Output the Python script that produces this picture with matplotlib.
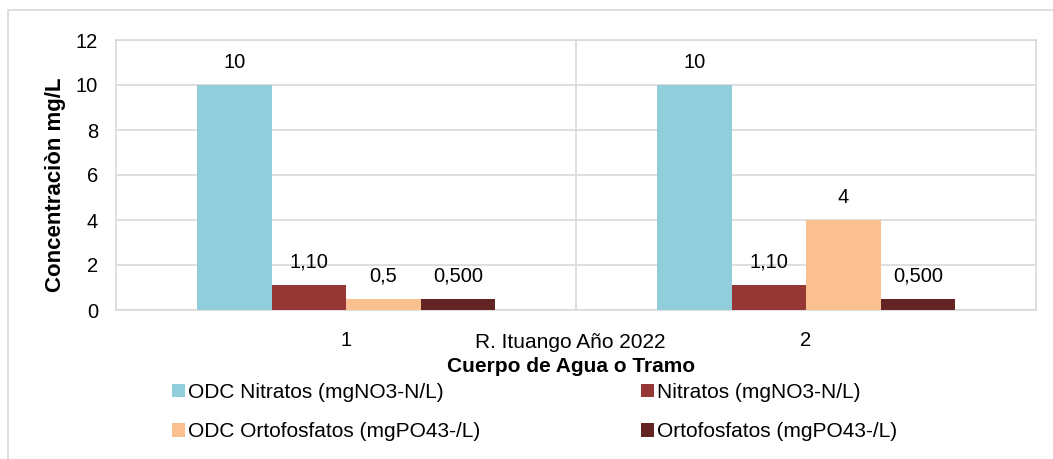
import matplotlib
matplotlib.use("Agg")
import matplotlib.pyplot as plt
from matplotlib.patches import Rectangle
import numpy as np

categories = ["1", "2"]
series_names = ["ODC Nitratos (mgNO3-N/L)", "Nitratos (mgNO3-N/L)",
                "ODC Ortofosfatos (mgPO43-/L)", "Ortofosfatos (mgPO43-/L)"]
odc_nitratos = [10, 10]
nitratos = [1.10, 1.10]
odc_ortofosfatos = [0.5, 4]
ortofosfatos = [0.500, 0.500]
labels_odc_nitratos = ["10", "10"]
labels_nitratos = ["1,10", "1,10"]
labels_odc_ortofosfatos = ["0,5", "4"]
labels_ortofosfatos = ["0,500", "0,500"]
yticks = [0, 2, 4, 6, 8, 10, 12]

colors = ["#92CDDC", "#953735", "#FAC090", "#632523"]

plt.rcParams['font.family'] = ['Liberation Sans', 'DejaVu Sans']

W, H = 1053, 459
fig = plt.figure(figsize=(W / 100, H / 100), dpi=100)
ax = fig.add_axes([116 / W, 1 - 310 / H, (1036 - 116) / W, (310 - 40) / H])

# outer chart border
fig.add_artist(Rectangle((8 / W, -0.01), 1.1, 1 - 10 / H + 0.01, transform=fig.transFigure,
                         fill=False, edgecolor="#D9D9D9", linewidth=1.2))

x = np.arange(len(categories))
bw = 74.5 / 460
all_vals = [odc_nitratos, nitratos, odc_ortofosfatos, ortofosfatos]
all_labels = [labels_odc_nitratos, labels_nitratos, labels_odc_ortofosfatos, labels_ortofosfatos]
handles = []
for i, (vals, labs) in enumerate(zip(all_vals, all_labels)):
    pos = x + (i - 1.5) * bw
    bars = ax.bar(pos, vals, width=bw, color=colors[i], label=series_names[i], zorder=3)
    handles.append(bars)
    for b, lab in zip(bars, labs):
        ax.annotate(lab, (b.get_x() + b.get_width() / 2, b.get_height()),
                    xytext=(0, 16.5), textcoords="offset points",
                    ha="center", va="center", fontsize=14.5, color="#000000")

ax.set_xlim(-0.5, 1.5)
ax.set_ylim(0, 12)
ax.set_yticks(yticks)
ax.set_yticklabels([str(v) for v in yticks], fontsize=14.5)
ax.set_xticks(x)
ax.set_xticklabels(categories, fontsize=14.5)
ax.tick_params(axis="both", length=0)
ax.tick_params(axis="x", pad=15)
ax.tick_params(axis="y", pad=13)
ax.grid(axis="y", color="#D9D9D9", linewidth=1.2, zorder=0)
ax.axvline(0.5, color="#D9D9D9", linewidth=1.2, zorder=0)
for s in ["top", "right", "left", "bottom"]:
    ax.spines[s].set_color("#D9D9D9")
    ax.spines[s].set_linewidth(1.2)

ax.set_ylabel("Concentraciòn mg/L", fontsize=16, fontweight="bold")
ax.yaxis.set_label_coords(-50 / 920, 1 - (185 - 40) / 270)

fig.text(570 / W, 1 - 342 / H, "R. Ituango Año 2022", ha="center", va="center", fontsize=15)
fig.text(571 / W, 1 - 366 / H, "Cuerpo de Agua o Tramo", ha="center", va="center",
         fontsize=15, fontweight="bold")

leg_kw = dict(frameon=False, fontsize=15, handlelength=0.6, handleheight=0.6,
              handletextpad=0.15, labelspacing=1.0, borderpad=0, borderaxespad=0)
fig.legend([handles[0], handles[2]], [series_names[0], series_names[2]], loc="center left",
           bbox_to_anchor=(172 / W, 1 - 412 / H), **leg_kw)
fig.legend([handles[1], handles[3]], [series_names[1], series_names[3]], loc="center left",
           bbox_to_anchor=(641 / W, 1 - 412 / H), **leg_kw)

fig.savefig("out.png", dpi=100)
